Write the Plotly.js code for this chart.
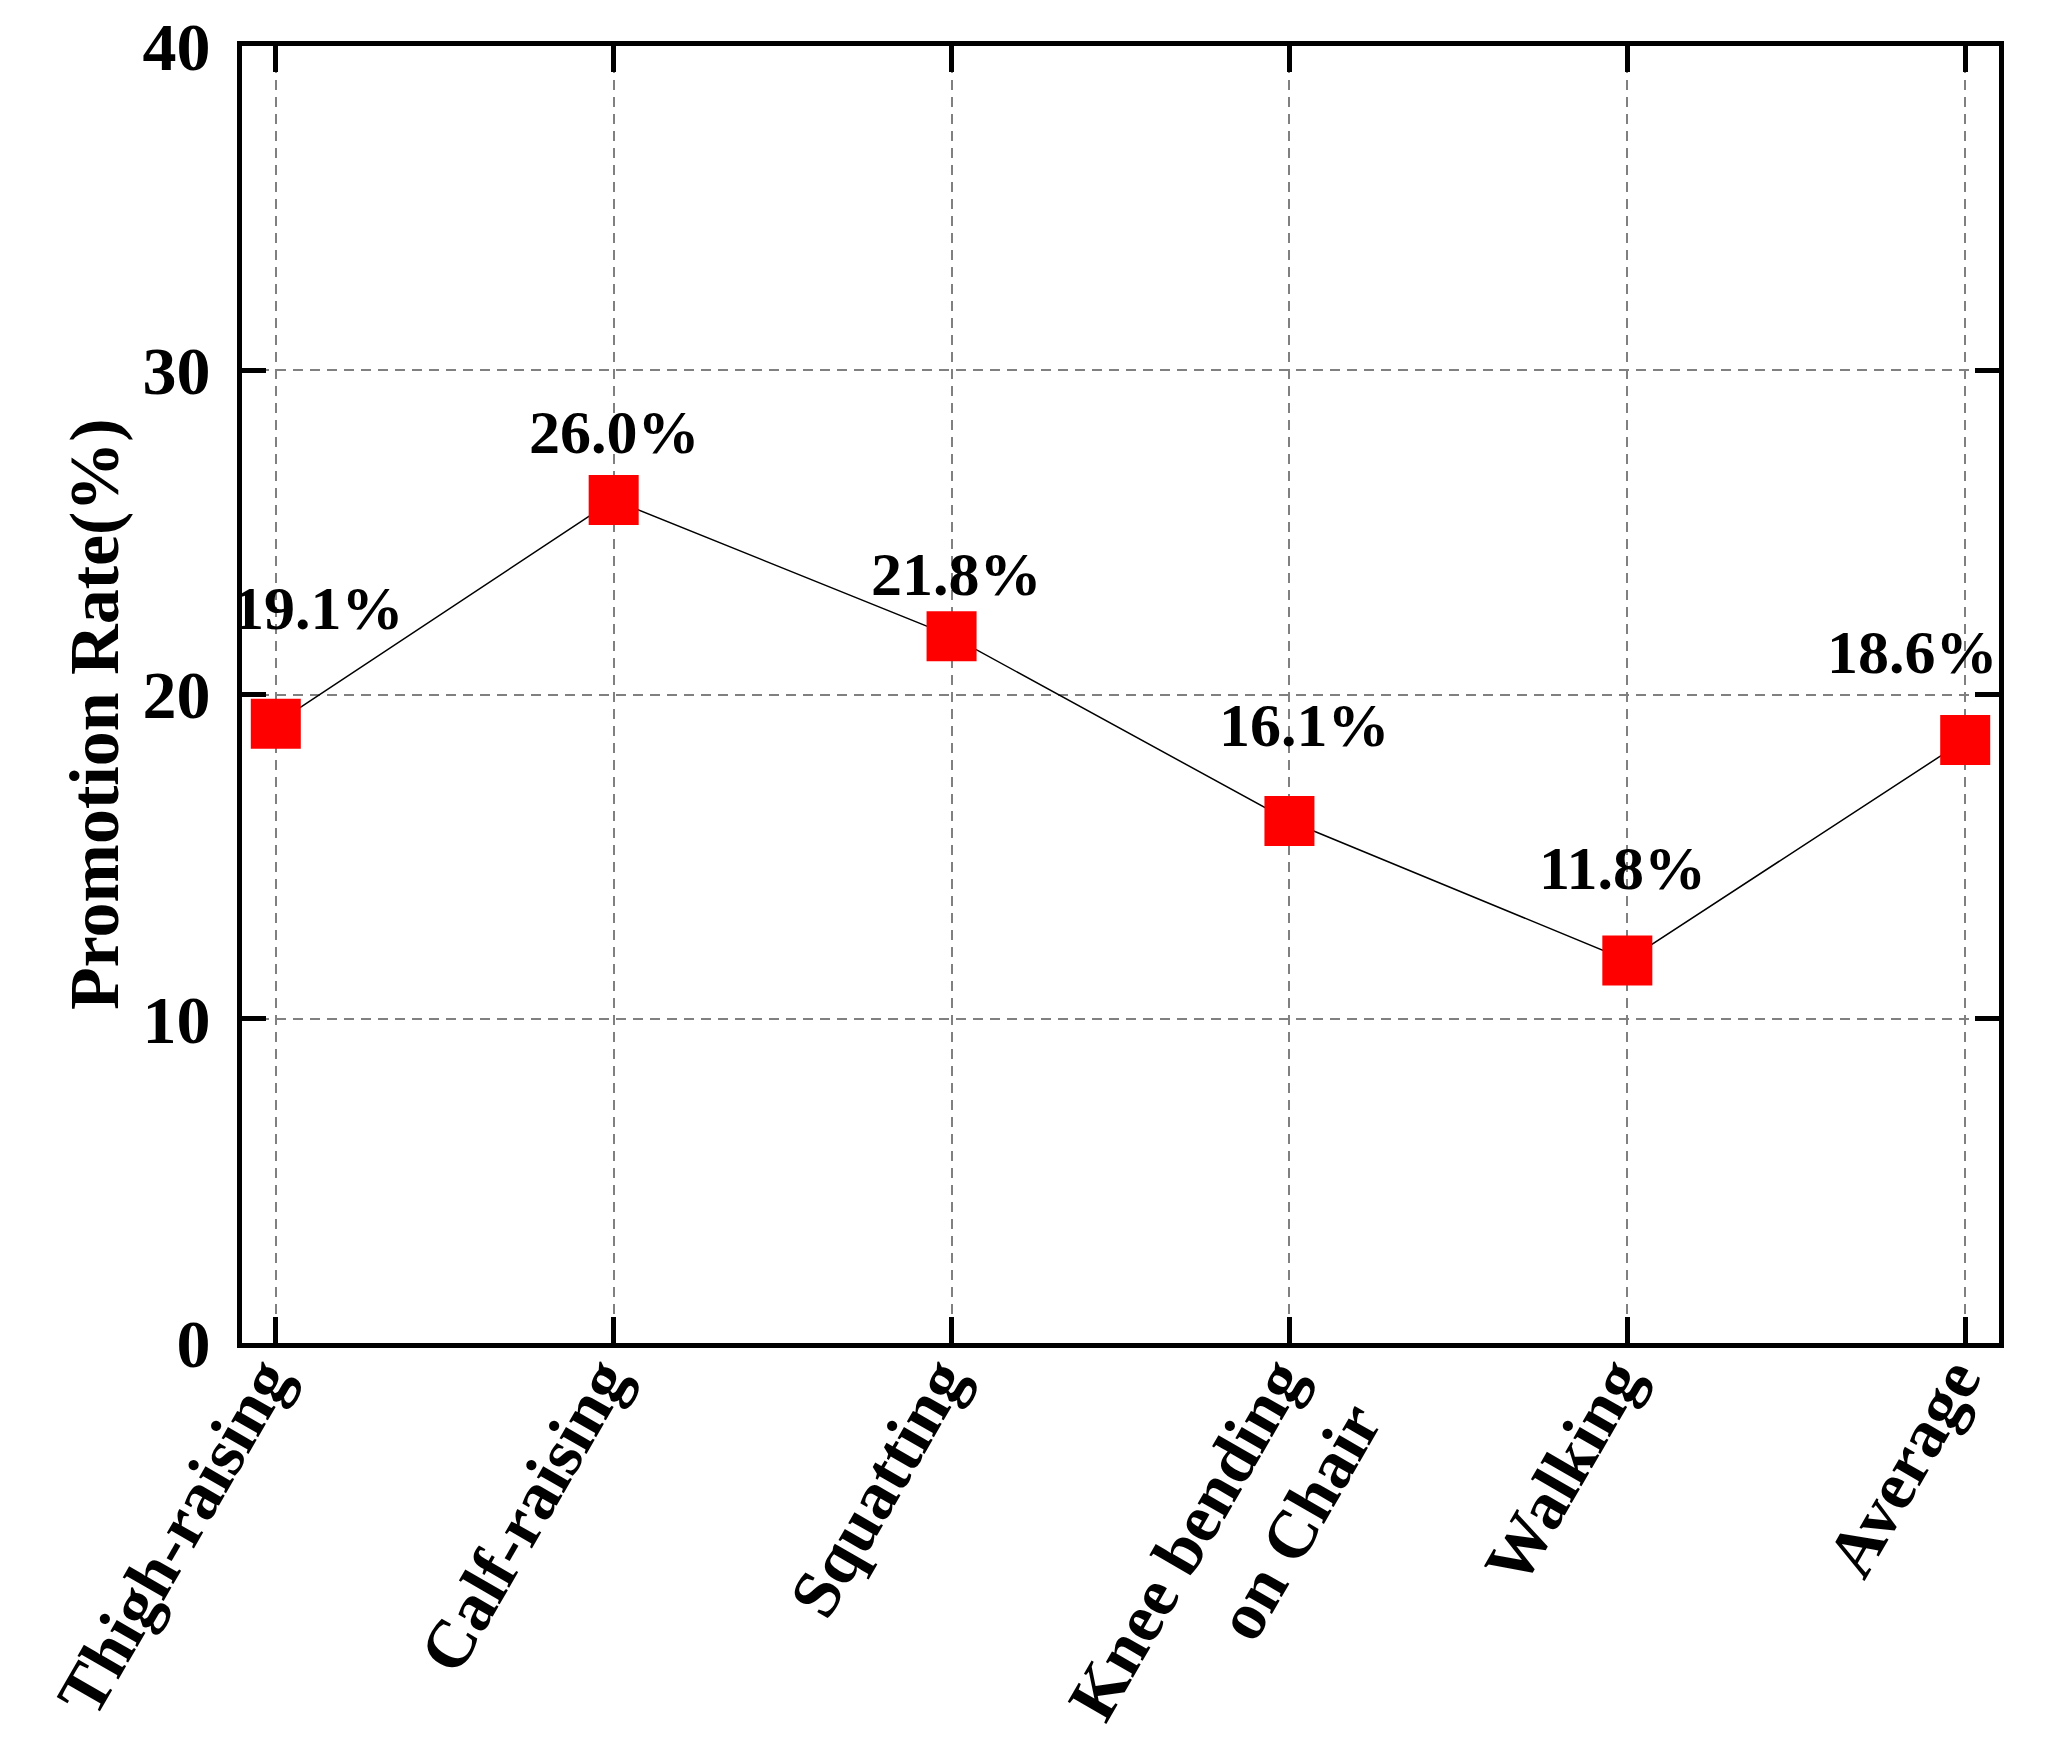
<!DOCTYPE html>
<html>
<head>
<meta charset="utf-8">
<script src="https://cdn.plot.ly/plotly-3.0.1.min.js"></script>
<style>html,body{margin:0;padding:0;background:#fff;}#chart{width:2059px;height:1750px;}</style>
</head>
<body>
<div id="chart"></div>
<script>
// ---- data ----
const categories = ["Thigh-raising", "Calf-raising", "Squatting", "Knee bending<br>on Chair", "Walking", "Average"];
const promotionRate = [19.1, 26.0, 21.8, 16.1, 11.8, 18.6];
const valueLabels = ["19.1%", "26.0%", "21.8%", "16.1%", "11.8%", "18.6%"];
const yTickValues = [0, 10, 20, 30, 40];
const yTickLabels = ["0", "10", "20", "30", "40"];
const yTitle = "Promotion Rate(%)";

// ---- styling ----
const FONT = "'Liberation Serif', 'Times New Roman', serif";
const labelShift = [[43, 116], [1, 68], [5, 62], [15, 96], [-5, 92], [-53, 88]];

const xIdx = categories.map((_, i) => i);

const trace = {
  x: xIdx,
  y: promotionRate,
  type: "scatter",
  mode: "lines+markers",
  line: {color: "#000", width: 1.5},
  marker: {symbol: "square", size: 50, color: "#ff0000", line: {width: 0}},
  showlegend: false,
  hoverinfo: "skip"
};

const annotations = valueLabels.map((t, i) => ({
  x: xIdx[i], y: promotionRate[i], xref: "x", yref: "y",
  text: "<b>" + t + "</b>", showarrow: false,
  xshift: labelShift[i][0], yshift: labelShift[i][1],
  font: {family: FONT, size: 62, color: "#000"},
  xanchor: "center", yanchor: "middle"
}));

annotations.push({
  x: 0, y: 0.485, xref: "paper", yref: "paper",
  xshift: -147, xanchor: "center", yanchor: "middle",
  text: "<b>" + yTitle + "</b>", textangle: -90, showarrow: false,
  font: {family: FONT, size: 70, color: "#000"}
});

const layout = {
  width: 2059, height: 1750,
  margin: {l: 242, r: 60, t: 46, b: 407},
  paper_bgcolor: "#fff", plot_bgcolor: "#fff",
  font: {family: FONT, color: "#000"},
  xaxis: {
    range: [-0.1, 5.1],
    tickmode: "array", tickvals: xIdx, ticktext: categories.map(c => "<b>" + c + "</b>"),
    tickangle: -60,
    tickfont: {family: FONT, size: 68, color: "#000"},
    ticklabelstandoff: -36,
    ticklabelshift: -12,
    showline: true, linecolor: "#000", linewidth: 5, mirror: "ticks",
    ticks: "inside", ticklen: 26, tickwidth: 5, tickcolor: "#000",
    showgrid: true, gridcolor: "#808080", gridwidth: 2, griddash: "10px,7px",
    zeroline: false, automargin: false
  },
  yaxis: {
    range: [0, 40],
    tickmode: "array", tickvals: yTickValues, ticktext: yTickLabels.map(t => "<b>" + t + "</b>"),
    tickfont: {family: FONT, size: 68, color: "#000"},
    showline: true, linecolor: "#000", linewidth: 5, mirror: "ticks",
    ticks: "inside", ticklen: 24, tickwidth: 5, tickcolor: "#000",
    ticklabelstandoff: 13,
    showgrid: true, gridcolor: "#808080", gridwidth: 2, griddash: "10px,7px",
    zeroline: false, automargin: false
  },
  annotations: annotations
};

Plotly.newPlot("chart", [trace], layout, {displayModeBar: false, staticPlot: true});
</script>
</body>
</html>
